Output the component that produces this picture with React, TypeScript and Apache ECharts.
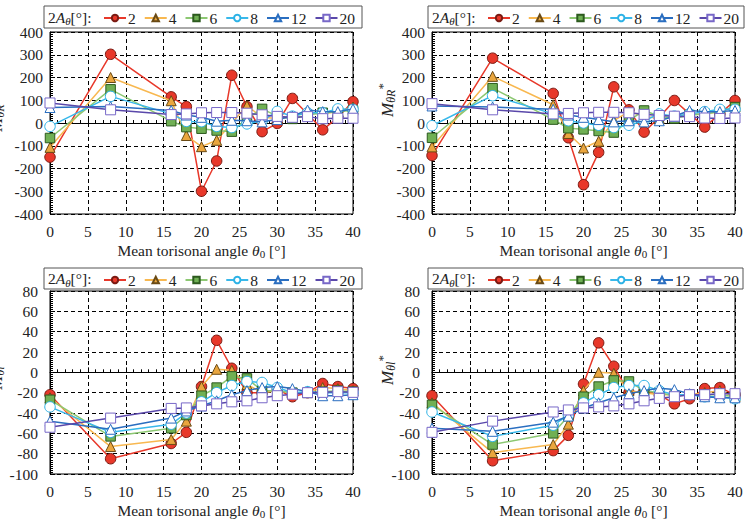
import React, { useEffect, useRef } from "react";
import * as echarts from "echarts";

const FONT = "'Liberation Serif', 'Times New Roman', serif";

const xAngles = [0, 8, 16, 18, 20, 22, 24, 26, 28, 30, 32, 34, 36, 38, 40];
const levels = ["2", "4", "6", "8", "12", "20"];

// Panel 1: M_θR
const mR_2 = [-150, 302, 115, 72, -300, -167, 210, 72, -38, -2, 108, 40, -30, 25, 94];
const mR_4 = [-107, 200, 98, -55, -104, -76, 0, 76, 25, 20, 30, 45, 40, 50, 70];
const mR_6 = [-66, 148, 8, -18, -25, -33, -38, 20, 62, 30, 18, 35, 45, 50, 55];
const mR_8 = [-15, 117, 40, 7, 6, -15, -20, -4, 10, 51, 30, 45, 45, 62, 60];
const mR_12 = [68, 72, 55, 35, 25, 8, 12, 10, 5, 15, 30, 57, 50, 50, 62];
const mR_20 = [88, 58, 37, 40, 45, 46, 46, 43, 36, 29, 25, 28, 19, 21, 21];

// Panel 2: M_θR*
const mRs_2 = [-143, 285, 130, -65, -271, -129, 159, 58, -40, 25, 99, 40, -18, 40, 99];
const mRs_4 = [-105, 205, 80, -46, -110, -80, 10, 50, 30, 20, 25, 40, 40, 50, 70];
const mRs_6 = [-65, 153, 15, -23, -28, -35, -42, 10, 55, 30, 20, 35, 40, 50, 70];
const mRs_8 = [-12, 120, 40, 10, 0, -10, -20, -10, 10, 40, 30, 40, 50, 60, 60];
const mRs_12 = [75, 70, 60, 35, 25, 15, 5, 10, 5, 10, 30, 55, 50, 50, 55];
const mRs_20 = [85, 58, 40, 42, 45, 47, 47, 45, 38, 33, 30, 28, 22, 20, 22];

// Panel 3: M_θl
const ml_2 = [-22, -85, -70, -59, -14, 31.5, 4, -20, -20, -17, -24, -20, -11, -14, -16];
const ml_4 = [-25, -73, -66, -48, -14, 3, 2, -12, -20, -18, -20, -20, -15, -16, -18];
const ml_6 = [-27, -63, -55, -42, -23, -15, -4, -6, -18, -18, -20, -20, -19, -18, -19];
const ml_8 = [-34, -59, -51, -40, -29, -20, -13, -9, -10, -15, -20, -19, -20, -20, -20];
const ml_12 = [-48, -56, -45, -38, -33, -28, -22, -18, -15, -14, -16, -19, -23, -23, -22];
const ml_20 = [-54, -45, -35.5, -35, -33, -31, -29, -28, -25, -23, -21.5, -20, -19.7, -19, -19.7];

// Panel 4: M_θl*
const mls_2 = [-23, -87, -77, -62, -11.5, 29, 6, -20, -18, -22, -31, -26, -16, -15, -22];
const mls_4 = [-30, -79, -71, -51, -18, 0, -1, -18, -20, -22, -22, -22, -20, -18, -24];
const mls_6 = [-32, -71, -60, -43, -24, -14, -8, -9, -18, -20, -23, -22, -22, -22, -24];
const mls_8 = [-39, -63, -52, -42, -30, -22, -15, -13, -13, -18, -22, -22, -24, -24, -26];
const mls_12 = [-55, -58, -49, -43, -35, -30, -25, -21, -18, -15.6, -17, -21, -24, -25, -25];
const mls_20 = [-59, -48, -39, -37, -35, -34, -33, -31, -28, -25.6, -24, -22, -22, -21, -21];

const panelData = [
  [mR_2, mR_4, mR_6, mR_8, mR_12, mR_20],
  [mRs_2, mRs_4, mRs_6, mRs_8, mRs_12, mRs_20],
  [ml_2, ml_4, ml_6, ml_8, ml_12, ml_20],
  [mls_2, mls_4, mls_6, mls_8, mls_12, mls_20],
];

const yRanges = [
  [-400, 400, 100],
  [-400, 400, 100],
  [-100, 80, 20],
  [-100, 80, 20],
];

const styles = [
  { symbol: "circle", size: 10.5, fill: "#e8382a", border: "#7a1a12", line: "#e8382a" },
  { symbol: "triangle", size: 10, fill: "#eaa63e", border: "#6a4a14", line: "#f8b850" },
  { symbol: "rect", size: 9.5, fill: "#70b054", border: "#2c5a1e", line: "#8cc872" },
  { symbol: "circle", size: 10.5, fill: "#ffffff", border: "#2cb2e6", line: "#38b8ea" },
  { symbol: "triangle", size: 10, fill: "#ffffff", border: "#2a6ec0", line: "#2a6ec0" },
  { symbol: "rect", size: 10, fill: "#ffffff", border: "#7868c8", line: "#5a48aa" },
];

const grids = [
  { left: 50, top: 32, width: 303, height: 182 },
  { left: 432, top: 32, width: 303, height: 182 },
  { left: 50, top: 291, width: 303, height: 183 },
  { left: 432, top: 291, width: 303, height: 183 },
];

const legendBoxes = [
  { x: 44, y: 6, w: 318, h: 22 },
  { x: 428, y: 6, w: 316, h: 22 },
  { x: 44, y: 268, w: 318, h: 21 },
  { x: 428, y: 268, w: 315, h: 21 },
];

const yTitles = [
  { main: "M", sub: "θR", sup: "", x: -4, y: 118 },
  { main: "M", sub: "θR", sup: "*", x: 387, y: 100 },
  { main: "M", sub: "θl", sup: "", x: -4, y: 378 },
  { main: "M", sub: "θl", sup: "*", x: 387, y: 370 },
];

export default function App() {
  const ref = useRef<HTMLDivElement>(null);
  useEffect(() => {
    if (!ref.current) return;
    const chart = echarts.init(ref.current, null, { renderer: "svg" });

    const xAxis: any[] = [];
    const yAxis: any[] = [];
    const series: any[] = [];
    const legend: any[] = [];
    const graphic: any[] = [];

    grids.forEach((g, p) => {
      xAxis.push({
        type: "value",
        gridIndex: p,
        min: 0,
        max: 40,
        interval: 5,
        name: "Mean torisonal angle {i|θ}{s|0} [°]",
        nameLocation: "middle",
        nameGap: 27,
        nameTextStyle: {
          fontFamily: FONT,
          fontSize: 15.5,
          color: "#222",
          rich: {
            i: { fontFamily: FONT, fontSize: 15.5, fontStyle: "italic", color: "#222" },
            s: { fontFamily: FONT, fontSize: 11, color: "#222", padding: [7, 0, 0, 0] },
          },
        },
        axisLine: { show: true, lineStyle: { color: "#000", width: 1 } },
        axisTick: { show: true, inside: true, length: 5, lineStyle: { color: "#000" } },
        minorTick: { show: true, splitNumber: 5, length: 3, lineStyle: { color: "#000" } },
        axisLabel: { fontFamily: FONT, fontSize: 15.5, color: "#222", margin: 9 },
        splitLine: { show: true, lineStyle: { color: "#000", type: [4, 3], width: 1 } },
      });
      const [mn, mx, iv] = yRanges[p];
      yAxis.push({
        type: "value",
        gridIndex: p,
        min: mn,
        max: mx,
        interval: iv,
        axisLine: { show: true, lineStyle: { color: "#000", width: 1 } },
        axisTick: { show: true, inside: true, length: 5, lineStyle: { color: "#000" } },
        minorTick: { show: true, splitNumber: 10, length: 3, lineStyle: { color: "#000" } },
        axisLabel: { fontFamily: FONT, fontSize: 15.5, color: "#222", margin: p < 2 ? 7 : 12 },
        splitLine: { show: true, lineStyle: { color: "#000", type: [4, 3], width: 1 } },
      });

      panelData[p].forEach((vals, k) => {
        const st = styles[k];
        series.push({
          type: "line",
          name: levels[k],
          xAxisIndex: p,
          yAxisIndex: p,
          data: xAngles.map((x, i) => [x, vals[i]]),
          symbol: st.symbol,
          symbolSize: st.size,
          showAllSymbol: true,
          itemStyle: { color: st.fill, borderColor: st.border, borderWidth: 1 },
          lineStyle: { color: st.line, width: 1.5 },
          emphasis: { disabled: true },
          z: 2 + k,
        });
      });

      const lb = legendBoxes[p];
      graphic.push({
        type: "rect",
        shape: { x: lb.x, y: lb.y, width: lb.w, height: lb.h },
        style: { fill: "#fff", stroke: "#555", lineWidth: 1 },
        z: 10,
      });
      graphic.push({
        type: "text",
        x: lb.x + 4,
        y: lb.y + lb.h / 2,
        style: {
          text: "2{i|A}{s|θ}[°]:",
          fontFamily: FONT,
          fontSize: 15.5,
          fill: "#222",
          verticalAlign: "middle",
          align: "left",
          rich: {
            i: { fontFamily: FONT, fontSize: 15.5, fontStyle: "italic", fill: "#222" },
            s: { fontFamily: FONT, fontSize: 11, fontStyle: "italic", fill: "#222", padding: [8, 0, 0, 0] },
          },
        },
        z: 11,
      });
      legend.push({
        left: lb.x + 59,
        top: lb.y + 4,
        orient: "horizontal",
        itemWidth: 22,
        itemHeight: 8,
        itemGap: 8,
        padding: 0,
        selectedMode: false,
        data: levels,
        textStyle: { fontFamily: FONT, fontSize: 15.5, color: "#222", padding: [0, 0, 0, -3] },
        z: 12,
      });

      const yt = yTitles[p];
      graphic.push({
        type: "text",
        x: yt.x,
        y: yt.y,
        rotation: Math.PI / 2,
        style: {
          text: "{m|" + yt.main + "}{s|" + yt.sub + "}" + (yt.sup ? "{p|" + yt.sup + "}" : ""),
          align: "center",
          verticalAlign: "middle",
          fill: "#222",
          rich: {
            m: { fontFamily: FONT, fontSize: 17, fontStyle: "italic", fill: "#222" },
            s: { fontFamily: FONT, fontSize: 12, fontStyle: "italic", fill: "#222", padding: [8, 0, 0, 0] },
            p: { fontFamily: FONT, fontSize: 13, fill: "#222", padding: [0, 0, 10, 0] },
          },
        },
        z: 11,
      });
    });

    chart.setOption({
      animation: false,
      backgroundColor: "#ffffff",
      grid: grids.map((g) => ({ ...g, show: true, borderColor: "#000", borderWidth: 1, backgroundColor: "transparent" })),
      xAxis,
      yAxis,
      series,
      legend,
      graphic,
    });
    return () => chart.dispose();
  }, []);

  return (
    <div
      ref={ref}
      style={{ position: "fixed", left: 0, top: 0, width: 749, height: 524, background: "#fff" }}
    />
  );
}
